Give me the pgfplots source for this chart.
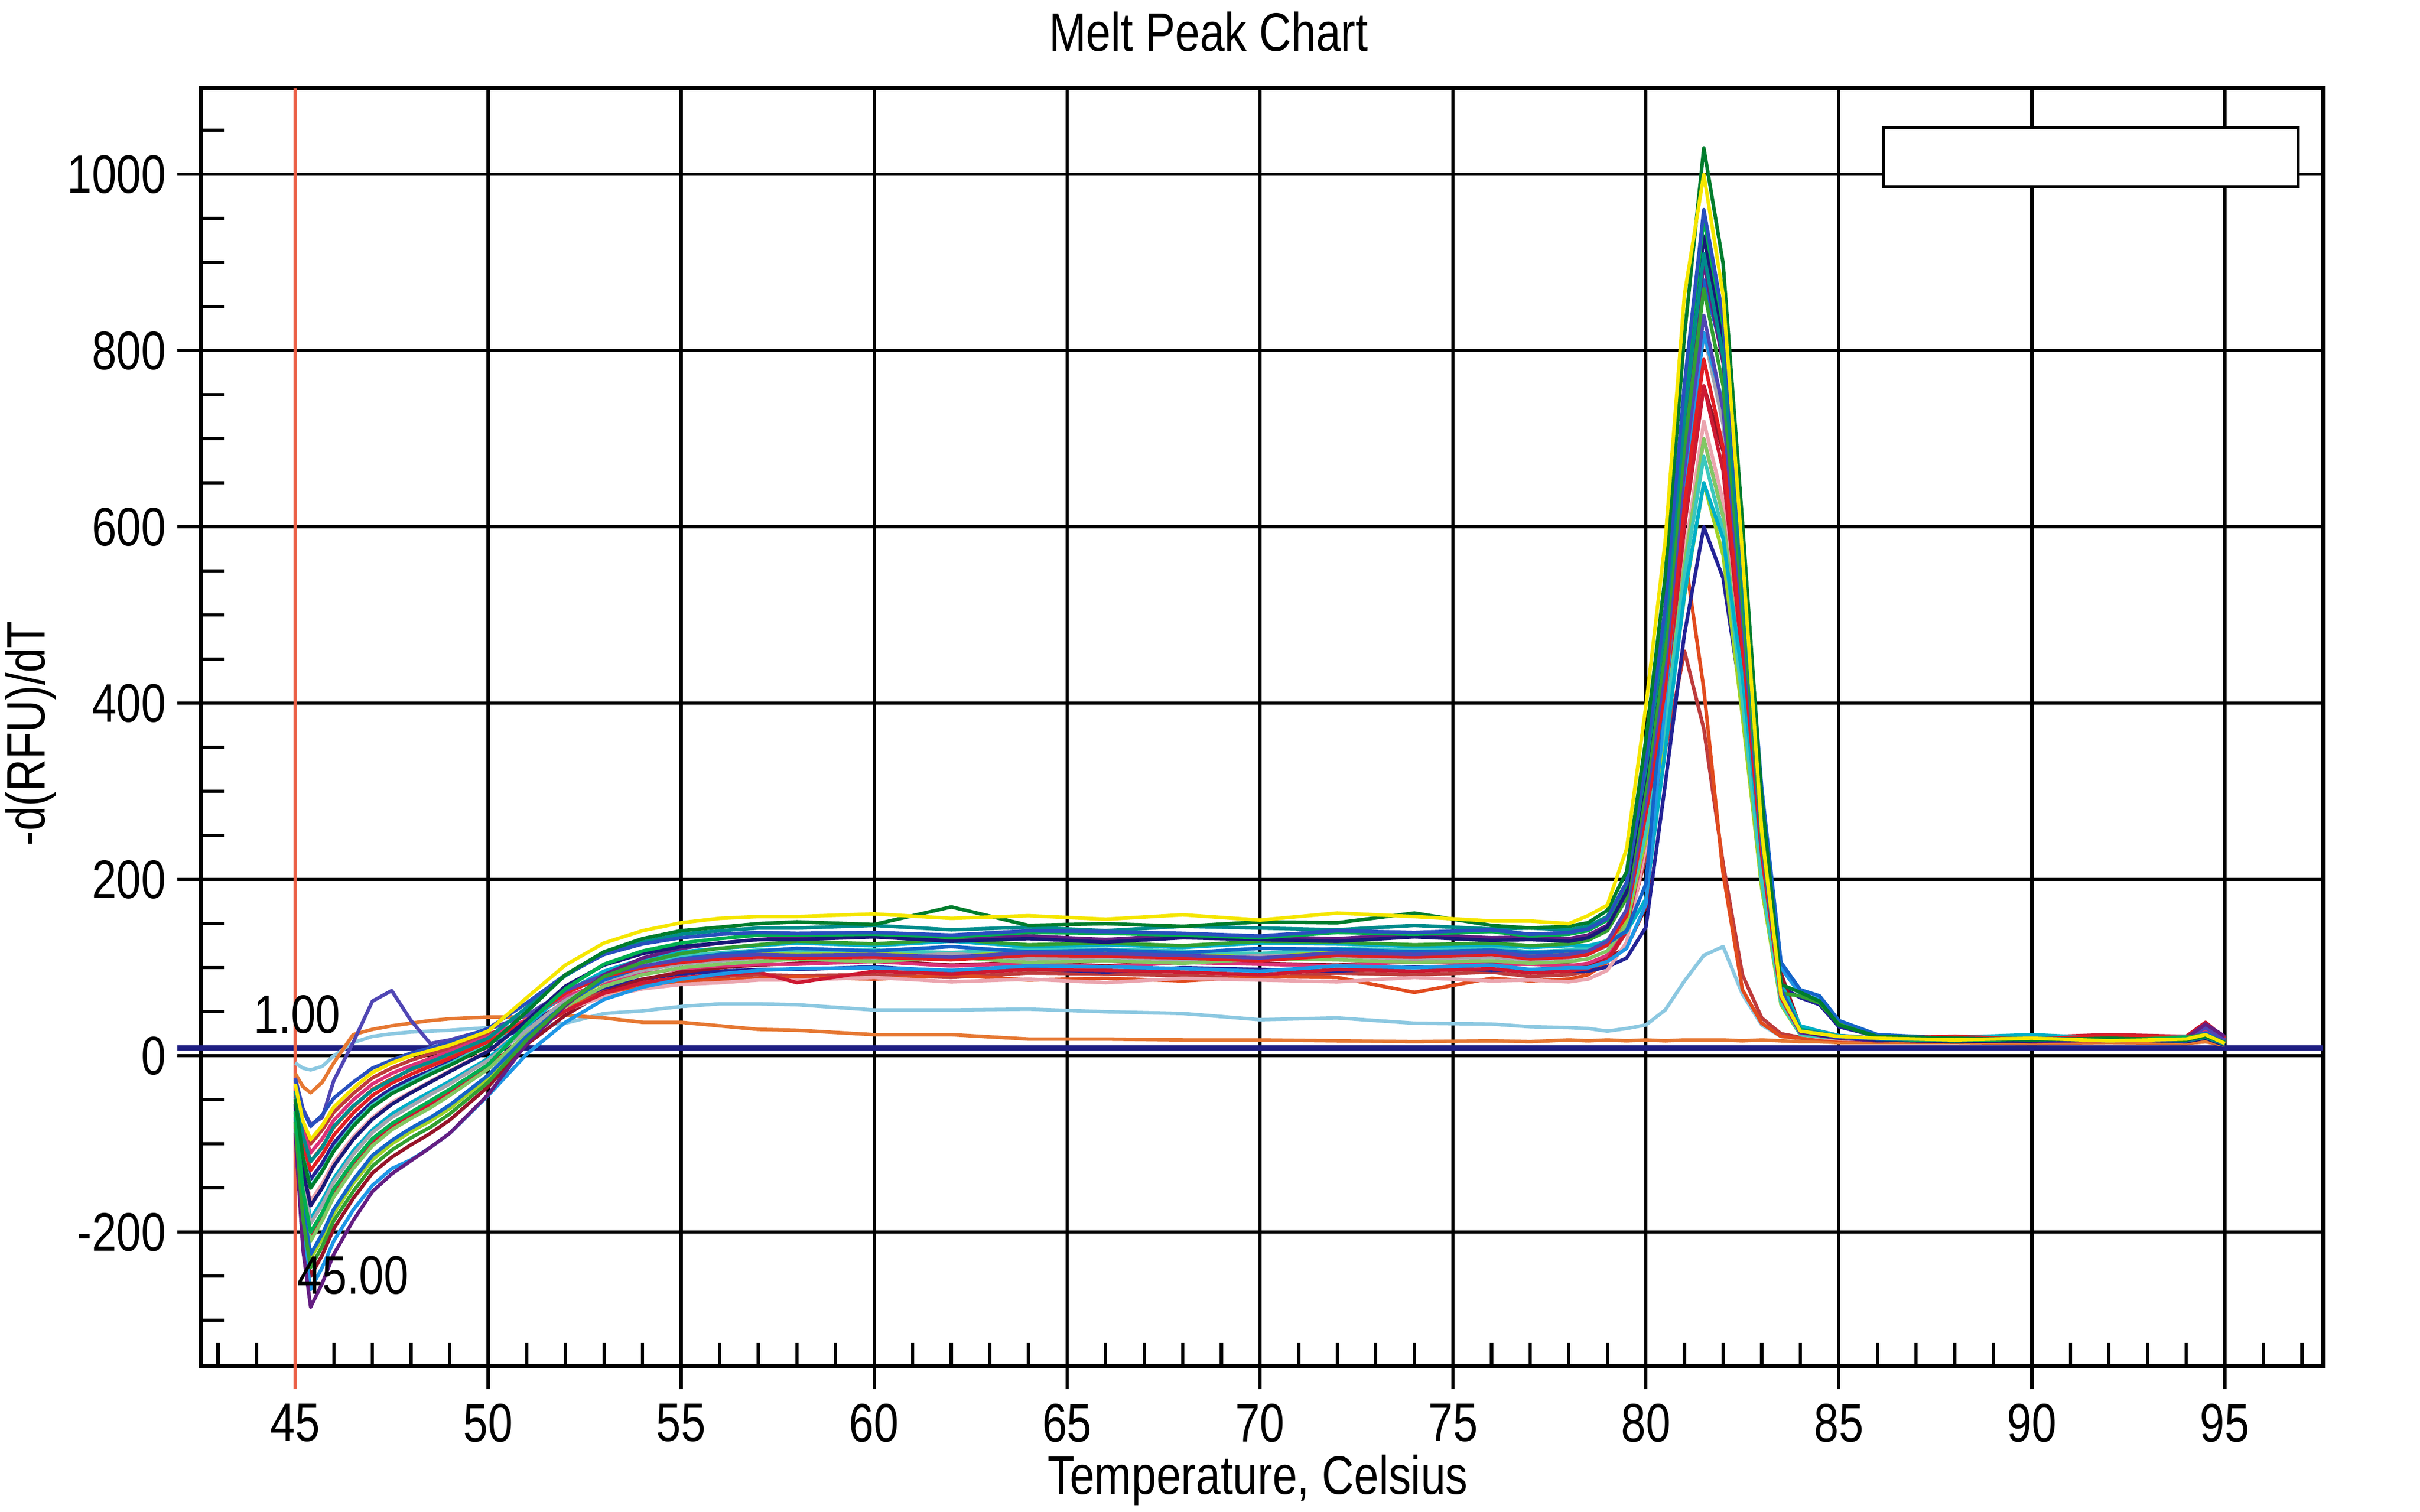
\documentclass[border=0pt]{standalone}
\usepackage{fontspec}
\setmainfont{Liberation Sans}[FakeStretch=0.82]
\usepackage{pgfplots}
\pgfplotsset{compat=1.18}
\usepackage{pgfplotstable}

\definecolor{c1}{RGB}{245,230,0}
\definecolor{c2}{RGB}{0,125,45}
\definecolor{c3}{RGB}{0,175,80}
\definecolor{c4}{RGB}{25,25,120}
\definecolor{c5}{RGB}{20,100,200}
\definecolor{c6}{RGB}{225,30,35}
\definecolor{c7}{RGB}{100,30,130}
\definecolor{c8}{RGB}{0,175,200}
\definecolor{c9}{RGB}{220,50,120}
\definecolor{c10}{RGB}{160,210,40}
\definecolor{c11}{RGB}{225,75,30}
\definecolor{c12}{RGB}{190,60,60}
\definecolor{c13}{RGB}{235,165,175}
\definecolor{c14}{RGB}{165,165,175}
\definecolor{c15}{RGB}{30,150,230}
\definecolor{c16}{RGB}{35,35,150}
\definecolor{c17}{RGB}{50,160,50}
\definecolor{c18}{RGB}{205,25,50}
\definecolor{c19}{RGB}{0,140,140}
\definecolor{c20}{RGB}{80,70,180}
\definecolor{c21}{RGB}{130,200,100}
\definecolor{c22}{RGB}{40,80,190}
\definecolor{c23}{RGB}{140,200,225}
\definecolor{c24}{RGB}{230,120,50}
\definecolor{c25}{RGB}{150,20,40}
\definecolor{c26}{RGB}{60,200,190}
\definecolor{navyline}{RGB}{30,30,130}
\definecolor{redline}{RGB}{235,95,70}

\pgfplotstableread{
T c1 c2 c3 c4 c5 c6 c7 c8 c9 c10 c11 c12 c13 c14 c15 c16 c17 c18 c19 c20 c21 c22 c23 c24 c25 c26
45 -32 -49 -63 -55 -70 -42 -88 -59 -36 -72 -39 -33 -53 -61 -82 -46 -75 -65 -40 -25 -66 -27 -8 -20 -77 -48
45.2 -74 -115 -153 -130 -173 -100 -220 -142 -85 -177 -92 -78 -126 -145 -204 -108 -185 -157 -91 -60 -161 -62 -14 -35 -192 -113
45.4 -95 -150 -200 -170 -225 -130 -285 -185 -110 -230 -120 -100 -165 -190 -265 -140 -240 -205 -120 -78 -210 -80 -16 -42 -250 -148
45.7 -79 -131 -178 -150 -202 -112 -258 -164 -94 -207 -103 -84 -145 -169 -240 -122 -216 -183 -104 -70 -187 -67 -12 -30 -226 -130
46 -58 -108 -151 -125 -174 -90 -225 -139 -73 -179 -81 -64 -121 -143 -210 -99 -187 -156 -80 -28 -160 -48 0 -8 -196 -106
46.5 -37 -80 -120 -95 -141 -65 -187 -108 -50 -145 -58 -43 -92 -112 -175 -73 -154 -124 -57 15 -128 -30 15 24 -162 -78
47 -19 -58 -94 -72 -113 -45 -154 -84 -32 -118 -38 -25 -70 -87 -147 -52 -125 -99 -39 62 -102 -14 22 30 -133 -56
47.5 -8 -43 -77 -55 -96 -31 -134 -66 -20 -100 -26 -14 -53 -70 -128 -37 -107 -81 -27 74 -84 -5 25 34 -115 -41
48 0 -32 -64 -42 -82 -21 -119 -53 -11 -86 -16 -5 -41 -57 -118 -26 -93 -68 -15 40 -71 3 27 37 -101 -30
48.5 6 -21 -51 -30 -70 -12 -104 -41 -3 -74 -8 2 -29 -44 -104 -17 -81 -55 -7 14 -59 9 28 40 -88 -19
49 12 -11 -38 -18 -56 -3 -88 -29 5 -60 1 8 -17 -32 -88 -7 -66 -42 2 18 -45 15 29 42 -73 -9
50 28 11 -10 5 -22 16 -44 -3 22 -25 19 25 6 -5 -45 14 -30 -13 20 30 -15 31 32 44 -35 13
51 66 50 36 40 22 40 14 34 41 21 33 37 26 29 2 33 18 24 55 46 25 60 34 44 13 40
52 103 92 76 79 59 71 57 72 67 58 55 59 52 63 38 61 59 51 91 74 56 92 37 46 46 73
53 128 118 104 103 86 90 92 96 83 85 70 74 67 85 64 77 90 71 116 92 79 115 48 43 72 95
54 142 133 119 116 101 100 111 110 93 99 78 82 76 97 78 87 106 83 129 102 92 127 51 38 87 106
55 151 142 128 124 110 106 122 118 99 108 84 87 81 104 87 93 116 89 138 109 100 134 56 38 95 113
56 156 146 133 128 115 110 128 122 102 113 86 90 83 108 93 96 122 92 142 113 104 138 59 34 100 117
57 158 150 137 132 119 112 132 125 104 117 88 92 86 111 97 98 126 95 145 115 107 140 59 30 103 120
58 158 152 137 132 122 111 135 128 104 117 90 91 86 114 99 98 130 83 145 114 110 139 58 29 105 119
60 161 149 138 135 119 112 138 125 107 118 87 92 89 111 100 101 127 96 148 115 107 140 52 24 108 120
62 156 169 135 130 124 109 133 130 102 115 92 89 84 116 97 96 132 93 143 112 112 137 52 24 103 117
64 159 148 140 133 118 114 136 124 105 120 86 94 87 110 102 99 126 98 146 117 106 142 53 19 106 122
66 155 150 139 129 120 113 132 126 101 119 88 93 83 112 101 95 128 97 142 116 108 141 50 19 102 121
68 160 147 137 134 117 111 137 123 106 117 85 91 88 109 99 100 125 95 147 114 105 139 48 18 107 119
70 154 152 134 132 122 108 135 128 104 114 90 88 86 114 96 98 130 92 145 111 110 136 41 18 105 116
72 162 151 140 130 121 114 133 127 102 120 89 94 84 113 102 96 129 98 143 117 109 142 43 17 103 122
74 158 162 138 135 118 112 138 124 107 118 72 92 89 110 100 101 126 96 148 115 106 140 37 16 108 120
76 153 148 141 131 120 115 134 126 103 121 88 95 85 112 103 97 128 99 144 118 108 143 36 17 104 123
77 153 145 136 132 117 110 135 123 104 116 85 90 86 109 98 98 125 94 145 113 105 138 33 16 105 118
78 150 147 138 130 119 112 133 125 102 118 87 92 84 111 100 96 127 96 143 115 107 140 32 18 103 120
78.5 159 151 142 134 119 115 137 125 105 121 92 96 87 115 100 96 131 99 147 119 110 144 31 17 103 123
79 171 165 154 146 127 126 148 130 114 129 106 107 97 125 107 101 142 109 158 130 119 156 28 18 110 131
79.5 235 209 195 186 142 159 187 141 144 155 159 141 129 161 122 111 179 142 197 166 149 197 31 17 123 159
80 397 359 333 322 195 275 317 178 246 246 290 226 237 281 172 146 305 255 327 289 249 337 35 18 169 254
80.5 584 544 503 490 439 417 478 346 371 357 449 346 370 430 402 308 461 395 488 441 374 509 52 17 379 372
81 864 818 755 738 697 627 716 524 556 522 570 459 567 650 647 479 692 601 726 666 558 763 85 18 602 546
81.5 1000 1030 950 930 880 790 900 650 700 650 416 371 720 820 820 600 870 760 910 840 700 960 114 18 760 680
82 863 899 829 812 794 690 786 587 612 568 207 218 629 716 740 542 760 664 794 733 612 838 124 18 686 594
82.5 569 606 559 548 579 467 530 430 414 385 75 92 426 484 540 397 513 449 536 496 414 565 70 17 501 403
83 255 293 271 266 304 228 258 228 204 190 37 43 209 236 284 211 250 220 260 241 204 274 35 18 264 198
83.5 69 81 76 75 106 66 73 83 61 58 22 25 62 68 100 78 71 64 73 69 61 76 22 17 94 60
84 28 72 30 28 75 26 27 34 25 24 20 21 24 27 70 66 68 25 29 26 24 28 20 16 32 24
84.5 25 62 26 24 68 24 23 28 22 22 19 20 21 25 64 58 60 23 26 24 22 25 19 16 28 22
85 22 35 22 21 40 22 20 23 20 20 18 19 19 21 38 33 36 21 22 20 20 21 18 15 23 20
86 20 22 19 18 24 20 17 20 19 18 17 18 18 19 23 22 21 20 19 18 18 19 17 15 20 18
88 18 20 17 16 20 22 19 21 17 19 18 16 20 18 19 20 19 22 18 17 19 20 16 15 21 17
90 20 18 19 17 18 19 16 24 21 17 16 18 17 20 21 18 20 21 20 19 17 18 17 14 23 19
92 17 20 18 19 21 23 18 20 18 20 18 17 19 17 18 20 18 24 18 18 19 19 16 15 20 18
94 19 18 20 16 19 21 20 22 20 18 17 19 21 19 20 19 21 22 17 20 18 17 17 14 22 20
94.5 24 22 23 20 26 34 36 25 28 22 24 27 25 23 24 30 24 38 21 32 22 23 18 16 35 24
95 14 15 15 12 16 18 22 17 16 14 14 15 15 15 16 17 15 20 13 18 14 14 14 12 19 15
}\melt

\newcommand{\chartfont}{\fontsize{10}{12}\selectfont}

\begin{document}
\begin{tikzpicture}
\useasboundingbox (-13mm,-9.43mm) rectangle (143.77mm,88.5mm);
\begin{axis}[
  scale only axis,
  width=137.5mm, height=82.8mm,
  xmin=42.55, xmax=97.55, ymin=-352, ymax=1098,
  xtick={45,50,...,95},
  ytick={-200,0,...,1000},
  minor xtick={43,44,...,97},
  minor ytick={-300,-250,...,1050},
  tick pos=left,
  tick align=outside,
  major tick length=1.5mm,
  minor tick length=-1.5mm,
  tick style={black, line width=0.6pt},
  grid=major,
  major grid style={black, line width=0.6pt},
  axis line style={black, line width=0.8pt},
  scaled ticks=false,
  /pgf/number format/1000 sep={},
  /pgf/number format/assume math mode=true,
  tick label style={font=\chartfont},
  xticklabel style={yshift=0.3mm},
  yticklabel style={xshift=0.5mm},
  label style={font=\chartfont},
  xlabel={Temperature, Celsius},
  xlabel style={at={(axis description cs:0.498,-0.100)}, anchor=base},
  ylabel={-d(RFU)/dT},
  ylabel style={at={(axis description cs:-0.080,0.495)}, anchor=center},
  clip=false,
  every axis plot/.append style={line width=0.65pt, no markers, line join=round},
]
\draw[navyline, line width=0.9pt] ([xshift=-1.5mm]axis cs:42.55,9) -- (axis cs:97.55,9);
\draw[redline, line width=0.55pt] (axis cs:45,1098) -- ([yshift=-1.5mm]axis cs:45,-352);
\pgfplotsinvokeforeach{23,24,12,11,16,25,13,9,18,21,10,26,8,14,15,5,6,20,7,17,4,3,19,22,2,1}{
  \addplot[c#1] table[x=T,y=c#1]{\melt};
}
\draw[black, line width=0.6pt, fill=white] (axis cs:86.15,986) rectangle (axis cs:96.9,1053);
\node[font=\chartfont] at (axis cs:45.05,47) {1.00};
\node[font=\chartfont] at (axis cs:46.5,-249) {45.00};
\end{axis}
\node[anchor=base, font=\chartfont] at (65.3mm,85.2mm) {Melt Peak Chart};
\end{tikzpicture}
\end{document}
